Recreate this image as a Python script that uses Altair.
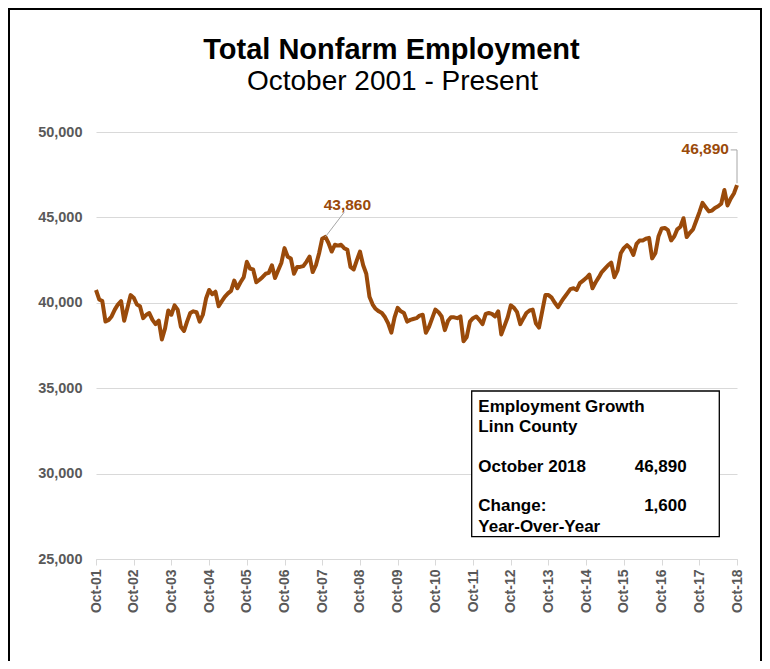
import altair as alt
import pandas as pd

# ---- Monthly total nonfarm employment, one list per Oct–Sep year ----
oct01_sep02 = [40750, 40200, 40100, 38900, 39000, 39200, 39600, 39900, 40100, 38950, 39700, 40450]
oct02_sep03 = [40300, 39900, 39800, 39100, 39300, 39400, 39000, 38750, 38950, 37850, 38500, 39550]
oct03_sep04 = [39300, 39850, 39600, 38600, 38350, 38900, 39400, 39500, 39450, 38900, 39300, 40250]
oct04_sep05 = [40750, 40500, 40650, 39800, 40100, 40350, 40550, 40700, 41300, 40850, 41200, 41500]
oct05_sep06 = [42400, 42000, 41950, 41200, 41350, 41500, 41700, 41750, 42200, 41450, 41900, 42350]
oct06_sep07 = [43200, 42700, 42600, 41700, 42100, 42100, 42150, 42400, 42700, 41800, 42200, 42900]
oct07_sep08 = [43750, 43860, 43500, 43000, 43400, 43350, 43400, 43200, 43100, 42100, 41950, 42500]
oct08_sep09 = [43000, 42200, 41700, 40350, 39900, 39650, 39500, 39400, 39150, 38800, 38250, 39150]
oct09_sep10 = [39700, 39500, 39400, 38900, 39000, 39050, 39100, 39250, 39300, 38250, 38600, 39100]
oct10_sep11 = [39600, 39450, 39200, 38400, 38950, 39150, 39150, 39100, 39200, 37750, 38000, 38900]
oct11_sep12 = [39100, 39200, 39000, 38750, 39350, 39400, 39350, 39200, 39500, 38150, 38650, 39150]
oct12_sep13 = [39850, 39700, 39450, 38750, 39100, 39400, 39550, 39600, 38800, 38550, 39500, 40450]
oct13_sep14 = [40450, 40300, 40000, 39750, 40050, 40300, 40550, 40800, 40850, 40750, 41150, 41300]
oct14_sep15 = [41450, 41650, 40850, 41200, 41500, 41800, 42000, 42200, 42350, 41500, 41900, 42900]
oct15_sep16 = [43200, 43380, 43200, 42800, 43450, 43650, 43650, 43750, 43800, 42600, 42900, 43900]
oct16_sep17 = [44350, 44380, 44250, 43650, 43900, 44300, 44450, 44950, 43850, 44100, 44300, 44800]
oct17_sep18 = [45290, 45850, 45600, 45350, 45400, 45550, 45650, 45800, 46600, 45700, 46100, 46400]
oct18 = [46890]

tick_years = list(range(2001, 2019))
y_ticks = [25000, 30000, 35000, 40000, 45000, 50000]

title_lines = ["Total Nonfarm Employment", "October 2001 - Present"]

# annotations
peak_label = ["43,860"]
peak_label_date = ["2008-06-01T00:00:00"]
peak_label_value = [45430]
peak_leader_from = ["2007-11-01T00:00:00"]
peak_leader_from_value = [43860]
peak_leader_to = ["2008-05-01T00:00:00"]
peak_leader_to_value = [45300]

last_label = ["46,890"]
last_label_date = ["2018-07-15T00:00:00"]
last_label_value = [48700]
last_leader_dates = ["2018-08-01T00:00:00", "2018-10-01T00:00:00", "2018-10-01T00:00:00"]
last_leader_values = [48950, 48950, 47000]

box_left_lines = ["Employment  Growth", "Linn County", "October 2018", "Change:", "Year-Over-Year"]
box_right_lines = ["", "", "46,890", "1,600", ""]

# ---- build tables ----
values = (oct01_sep02 + oct02_sep03 + oct03_sep04 + oct04_sep05 + oct05_sep06 + oct06_sep07
          + oct07_sep08 + oct08_sep09 + oct09_sep10 + oct10_sep11 + oct11_sep12 + oct12_sep13
          + oct13_sep14 + oct14_sep15 + oct15_sep16 + oct16_sep17 + oct17_sep18 + oct18)
dates = pd.date_range("2001-10-01", "2018-10-01", freq="MS")
df = pd.DataFrame({"date": dates.strftime("%Y-%m-%dT00:00:00"), "value": values})

FONT = "Liberation Sans"
LINE = "#9A4A0A"

x_scale = alt.Scale(domain=[alt.DateTime(year=2001, month=10, date=1),
                            alt.DateTime(year=2018, month=10, date=1)], nice=False)
y_scale = alt.Scale(domain=[25000, 50000], nice=False, zero=False)

x_axis = alt.Axis(values=[alt.DateTime(year=y, month=10, date=1) for y in tick_years],
                  format="%b-%y", labelAngle=270, labelFont=FONT, labelFontSize=14,
                  labelFontWeight="bold", labelColor="#595959", domainColor="#d9d9d9",
                  tickColor="#d9d9d9", tickSize=6, labelPadding=4, grid=False,
                  labelOverlap=False, labelFlush=False, title=None)
y_axis = alt.Axis(values=y_ticks, format=",.0f", labelFont=FONT, labelFontSize=14.5,
                  labelFontWeight="bold", labelColor="#595959", grid=True,
                  gridColor="#d9d9d9", gridWidth=1, domain=False, ticks=False,
                  labelPadding=14, title=None)

X = alt.X("date:T", scale=x_scale, axis=x_axis, title=None)
Y = alt.Y("value:Q", scale=y_scale, axis=y_axis, title=None)

line = alt.Chart(df).mark_line(color=LINE, strokeWidth=4, strokeJoin="round").encode(x=X, y=Y)

peak_df = pd.DataFrame({"date": peak_leader_from, "value": peak_leader_from_value,
                        "date2": peak_leader_to, "value2": peak_leader_to_value})
peak_leader = alt.Chart(peak_df).mark_rule(color="#a6a6a6", strokeWidth=1).encode(
    x=X, y=Y, x2="date2:T", y2="value2:Q")
peak_text = alt.Chart(pd.DataFrame({"date": peak_label_date, "value": peak_label_value,
                                    "label": peak_label})).mark_text(
    font=FONT, fontSize=15.5, fontWeight="bold", color=LINE, align="center",
    baseline="alphabetic").encode(x=X, y=Y, text="label:N")

last_df = pd.DataFrame({"date": last_leader_dates, "value": last_leader_values,
                        "ord": [0, 1, 2]})
last_leader = alt.Chart(last_df).mark_line(color="#a6a6a6", strokeWidth=1).encode(
    x=X, y=Y, order="ord:Q")
last_text = alt.Chart(pd.DataFrame({"date": last_label_date, "value": last_label_value,
                                    "label": last_label})).mark_text(
    font=FONT, fontSize=15.5, fontWeight="bold", color=LINE, align="right",
    baseline="alphabetic").encode(x=X, y=Y, text="label:N")

one = pd.DataFrame({"k": [0]})
box = alt.Chart(one).mark_rect(fill="white", stroke="black", strokeWidth=1.3).encode(
    x=alt.value(375.7), x2=alt.value(623.3), y=alt.value(259), y2=alt.value(404.7))

box_df = pd.DataFrame({"left": box_left_lines, "right": box_right_lines,
                       "yy": [279.7, 299.7, 340.3, 379.0, 399.7]})
box_left = alt.Chart(box_df).mark_text(font=FONT, fontSize=17, fontWeight="bold",
                                       color="black", align="left",
                                       baseline="alphabetic").encode(
    x=alt.value(382.3), y=alt.Y("yy:Q", scale=None), text="left:N")
box_right = alt.Chart(box_df).mark_text(font=FONT, fontSize=17, fontWeight="bold",
                                        color="black", align="right",
                                        baseline="alphabetic").encode(
    x=alt.value(590.7), y=alt.Y("yy:Q", scale=None), text="right:N")

title_df = pd.DataFrame({"t": title_lines, "yy": [-72.7, -42.0],
                         "w": ["bold", "normal"]})
title_main = alt.Chart(title_df.iloc[[0]]).mark_text(
    font=FONT, fontSize=29, fontWeight="bold", color="black", align="center",
    baseline="alphabetic").encode(x=alt.value(295.5), y=alt.Y("yy:Q", scale=None), text="t:N")
title_sub = alt.Chart(title_df.iloc[[1]]).mark_text(
    font=FONT, fontSize=28, fontWeight="normal", color="black", align="center",
    baseline="alphabetic").encode(x=alt.value(296.5), y=alt.Y("yy:Q", scale=None), text="t:N")

border = alt.Chart(one).mark_rect(fillOpacity=0, stroke="black", strokeWidth=2).encode(
    x=alt.value(-87), x2=alt.value(665), y=alt.value(-123), y2=alt.value(560))

chart = alt.layer(line, peak_leader, peak_text, last_leader, last_text,
                  box, box_left, box_right, title_main, title_sub, border).properties(
    width=641, height=427,
    autosize=alt.AutoSizeParams(type="none"),
    padding={"left": 88, "top": 124, "right": 25, "bottom": 102},
    background="white",
).configure_view(stroke=None)

chart.save("out.html", embed_options={"renderer": "svg", "actions": False})
